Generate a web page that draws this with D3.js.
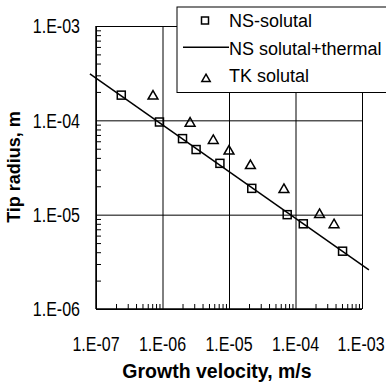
<!DOCTYPE html>
<html>
<head>
<meta charset="utf-8">
<script src="https://cdn.jsdelivr.net/npm/d3@7"></script>
<style>
  body { margin: 0; background: #fff; }
  svg { display: block; }
  text { font-family: "Liberation Sans", Arial, sans-serif; fill: #000; }
</style>
</head>
<body>
<div id="chart"></div>
<script>
// data
const xTicks = [1e-7, 1e-6, 1e-5, 1e-4, 1e-3];
const xTickLabels = ["1.E-07", "1.E-06", "1.E-05", "1.E-04", "1.E-03"];
const yTicks = [1e-6, 1e-5, 1e-4, 1e-3];
const yTickLabels = ["1.E-06", "1.E-05", "1.E-04", "1.E-03"];

// NS-solutal (velocity m/s, radius m)
const nsVel = [2.4e-7, 9.0e-7, 2.0e-6, 3.2e-6, 7.3e-6, 2.2e-5, 7.5e-5, 1.31e-4, 5.1e-4];
const nsRad = [1.85e-4, 9.6e-5, 6.4e-5, 4.9e-5, 3.5e-5, 1.9e-5, 1.0e-5, 8.0e-6, 4.1e-6];

// NS solutal+thermal
const lineVel = [8.1e-8, 1.27e-3];
const lineRad = [3.1e-4, 2.6e-6];

// TK solutal
const tkVel = [7.2e-7, 2.6e-6, 5.8e-6, 1.0e-5, 2.1e-5, 6.7e-5, 2.3e-4, 3.8e-4];
const tkRad = [1.8e-4, 9.3e-5, 6.1e-5, 4.7e-5, 3.3e-5, 1.84e-5, 1.0e-5, 7.8e-6];

const legendNames = ["NS-solutal", "NS solutal+thermal", "TK solutal"];

// layout
const W = 386, H = 385;
const pLeft = 96, pRight = 362, pTop = 26, pBottom = 309;
const squeeze = 0.8; // tick labels are horizontally condensed in the original

const svg = d3.select("#chart").append("svg")
  .attr("width", W).attr("height", H);

const x = d3.scaleLog().domain([1e-7, 1e-3]).range([pLeft, pRight]);
const y = d3.scaleLog().domain([1e-6, 1e-3]).range([pBottom, pTop]);

// minor ticks (inside)
const xMinor = x.ticks().filter(v => !xTicks.some(t => Math.abs(t - v) / t < 1e-6));
const yMinor = y.ticks().filter(v => !yTicks.some(t => Math.abs(t - v) / t < 1e-6));

svg.append("g")
  .attr("transform", `translate(0,${pBottom})`)
  .call(d3.axisBottom(x).tickValues(xMinor).tickSize(-5).tickFormat(""))
  .call(g => g.select(".domain").remove())
  .selectAll("line").attr("stroke", "#000");

svg.append("g")
  .attr("transform", `translate(${pLeft},0)`)
  .call(d3.axisLeft(y).tickValues(yMinor).tickSize(-5).tickFormat(""))
  .call(g => g.select(".domain").remove())
  .selectAll("line").attr("stroke", "#000");

// gridlines
svg.append("g")
  .attr("transform", `translate(0,${pBottom})`)
  .call(d3.axisBottom(x).tickValues(xTicks).tickSize(-(pBottom - pTop)).tickFormat(""))
  .call(g => g.select(".domain").remove())
  .selectAll("line").attr("stroke", "#000").attr("stroke-width", 1);

svg.append("g")
  .attr("transform", `translate(${pLeft},0)`)
  .call(d3.axisLeft(y).tickValues(yTicks).tickSize(-(pRight - pLeft)).tickFormat(""))
  .call(g => g.select(".domain").remove())
  .selectAll("line").attr("stroke", "#000").attr("stroke-width", 1);

// axis lines
svg.append("line").attr("x1", pLeft).attr("x2", pLeft).attr("y1", pTop).attr("y2", pBottom)
  .attr("stroke", "#000").attr("stroke-width", 1.5);
svg.append("line").attr("x1", pLeft).attr("x2", pRight).attr("y1", pBottom).attr("y2", pBottom)
  .attr("stroke", "#000").attr("stroke-width", 1.5);

// tick labels
svg.append("g").selectAll("text")
  .data(xTicks)
  .join("text")
  .attr("transform", d => `translate(${Math.min(x(d), 361)},351) scale(${squeeze},1)`)
  .attr("text-anchor", "middle")
  .attr("font-size", 20)
  .text((d, i) => xTickLabels[i]);

svg.append("g").selectAll("text")
  .data(yTicks)
  .join("text")
  .attr("transform", d => `translate(80,${y(d)}) scale(${squeeze},1)`)
  .attr("dy", "0.36em")
  .attr("text-anchor", "end")
  .attr("font-size", 20)
  .text((d, i) => yTickLabels[i]);

// axis titles
svg.append("text")
  .attr("x", 217).attr("y", 378)
  .attr("text-anchor", "middle")
  .attr("font-size", 19.5).attr("font-weight", "bold")
  .text("Growth velocity, m/s");

svg.append("text")
  .attr("transform", "translate(20,167) rotate(-90)")
  .attr("text-anchor", "middle")
  .attr("font-size", 18).attr("font-weight", "bold")
  .text("Tip radius, m");

// legend box sits over the grid
const lg = svg.append("g");
lg.append("rect")
  .attr("x", 177).attr("y", 7).attr("width", 230).attr("height", 85.5)
  .attr("fill", "#fff").attr("stroke", "#000").attr("stroke-width", 1);

// line
const line = d3.line().x(d => x(d[0])).y(d => y(d[1]));
svg.append("path")
  .datum(lineVel.map((v, i) => [v, lineRad[i]]))
  .attr("d", line)
  .attr("fill", "none").attr("stroke", "#000").attr("stroke-width", 1.5);

// squares
const sq = 8;
svg.append("g").selectAll("rect")
  .data(nsVel.map((v, i) => [v, nsRad[i]]))
  .join("rect")
  .attr("x", d => x(d[0]) - sq / 2)
  .attr("y", d => y(d[1]) - sq / 2)
  .attr("width", sq).attr("height", sq)
  .attr("fill", "none").attr("stroke", "#000").attr("stroke-width", 1.5);

// triangles
const tri = d3.symbol().type(d3.symbolTriangle).size(42);
svg.append("g").selectAll("path")
  .data(tkVel.map((v, i) => [v, tkRad[i]]))
  .join("path")
  .attr("transform", d => `translate(${x(d[0])},${y(d[1])})`)
  .attr("d", tri)
  .attr("fill", "none").attr("stroke", "#000").attr("stroke-width", 1.5);

// legend entries
const rows = [20.5, 47.3, 79];
lg.append("rect")
  .attr("x", 205 - 3.5).attr("y", rows[0] - 3.5).attr("width", 7).attr("height", 7)
  .attr("fill", "none").attr("stroke", "#000").attr("stroke-width", 1.5);
lg.append("line")
  .attr("x1", 183).attr("x2", 229).attr("y1", rows[1]).attr("y2", rows[1])
  .attr("stroke", "#000").attr("stroke-width", 1.5);
lg.append("path")
  .attr("transform", `translate(206,${rows[2]})`)
  .attr("d", d3.symbol().type(d3.symbolTriangle).size(30))
  .attr("fill", "none").attr("stroke", "#000").attr("stroke-width", 1.5);

lg.selectAll("text.leg")
  .data(legendNames)
  .join("text")
  .attr("class", "leg")
  .attr("x", 229)
  .attr("y", (d, i) => [27, 55, 82][i])
  .attr("font-size", 18)
  .text(d => d);
</script>
</body>
</html>
